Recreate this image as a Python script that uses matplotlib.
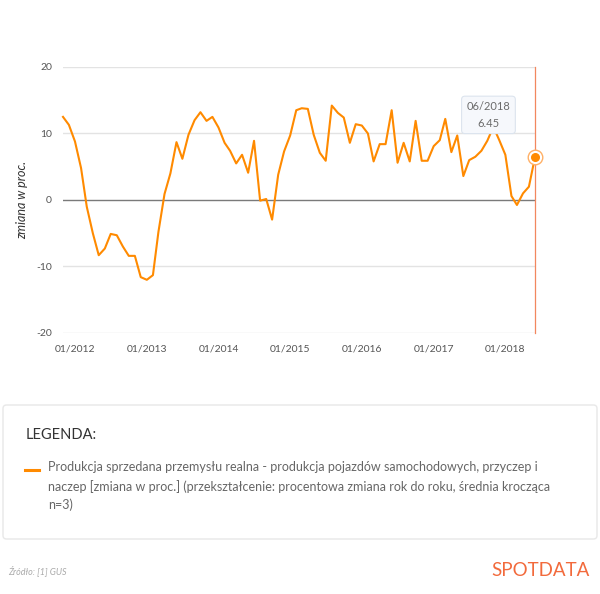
import matplotlib
matplotlib.use('Agg')
import matplotlib.pyplot as plt
import matplotlib.dates as mdates
from matplotlib.patches import FancyBboxPatch
import pandas as pd

plt.rcParams['font.family'] = ['Lato', 'DejaVu Sans']

# monthly series, 11/2011 - 06/2018 (yoy %, 3-month moving average)
start_month = '2011-11-01'
values = [12.5, 11.3, 8.8, 4.8, -1.0, -5.0, -8.3, -7.3, -5.1, -5.3,
          -7.0, -8.4, -8.4, -11.6, -12.0, -11.3, -4.8, 0.9, 4.0, 8.7,
          6.2, 9.8, 12.0, 13.2, 11.9, 12.5, 10.9, 8.6, 7.4, 5.5,
          6.8, 4.1, 8.9, -0.1, 0.15, -2.95, 3.8, 7.3, 9.7, 13.5,
          13.8, 13.7, 9.8, 7.1, 5.9, 14.2, 13.1, 12.4, 8.6, 11.4,
          11.2, 10.0, 5.8, 8.4, 8.4, 13.5, 5.6, 8.6, 5.8, 11.9,
          5.9, 5.9, 8.1, 9.0, 12.2, 7.2, 9.7, 3.6, 6.0, 6.5,
          7.4, 8.9, 11.0, 9.0, 6.8, 0.6, -0.75, 1.0, 2.0, 6.45]
y_ticks = [-20, -10, 0, 10, 20]
tooltip_label = '06/2018'
tooltip_value = '6.45'
legend_text = ('Produkcja sprzedana przemysłu realna - produkcja pojazdów samochodowych, przyczep i\n'
               'naczep [zmiana w proc.] (przekształcenie: procentowa zmiana rok do roku, średnia krocząca\n'
               'n=3)')

dates = pd.date_range(start_month, periods=len(values), freq='MS')

line_col = '#ff8a00'
fig = plt.figure(figsize=(6, 5.94), dpi=100)
ax = fig.add_axes([63 / 600, 1 - 333 / 594, (535 - 63) / 600, (333 - 67) / 594])

for yv in y_ticks:
    if yv == 0:
        ax.axhline(yv, color='#7a7a7a', lw=1.0, zorder=1)
    else:
        ax.axhline(yv, color='#e3e3e3', lw=1.0, zorder=1)

ax.plot(dates, values, color=line_col, lw=1.5, zorder=3, clip_on=False)
ax.axvline(dates[-1], color='#f2875f', lw=0.9, zorder=2, clip_on=False)
ax.scatter([dates[-1]], [values[-1]], s=110, facecolor='white', edgecolor='#ffb066', lw=1.0,
           zorder=4, clip_on=False)
ax.scatter([dates[-1]], [values[-1]], s=30, color=line_col, zorder=5, clip_on=False)

ax.set_xlim(dates[0], dates[-1])
ax.set_ylim(-20, 20)
ax.set_yticks(y_ticks)
ax.set_yticklabels([str(v) for v in y_ticks])
jan = [d for d in dates if d.month == 1]
ax.set_xticks(jan)
ax.xaxis.set_major_formatter(mdates.DateFormatter('%m/%Y'))
ax.tick_params(length=0, labelsize=7.5, labelcolor='#555555', pad=8)
for s in ax.spines.values():
    s.set_visible(False)

# tooltip
tip_x = dates[71] + pd.Timedelta(days=6)
ax.text(tip_x, 12.8, tooltip_label + '\n' + tooltip_value, ha='center', va='center',
        fontsize=8, color='#6b6b6b', linespacing=1.6, zorder=6,
        bbox=dict(boxstyle='round,pad=0.45,rounding_size=0.3', facecolor='#f6f8fc',
                  edgecolor='#dce4ee', lw=0.8))

fig.text(22 / 600, 1 - 200 / 594, 'zmiana w proc.', rotation=90, ha='center', va='center',
         fontsize=9, style='italic', color='#333333')

# legend box
box = FancyBboxPatch((3 / 600, 1 - 539 / 594), 594 / 600, 134 / 594,
                     boxstyle='round,pad=0,rounding_size=0.006', transform=fig.transFigure,
                     facecolor='white', edgecolor='#e8e8e8', lw=1.0)
fig.patches.append(box)
fig.text(26 / 600, 1 - 435 / 594, 'LEGENDA:', ha='left', va='center', fontsize=10.5, color='#333333')
fig.add_artist(plt.Line2D([25 / 600, 39 / 600], [1 - 470 / 594, 1 - 470 / 594],
                          color=line_col, lw=2.2, transform=fig.transFigure))
fig.text(48 / 600, 1 - 461 / 594, legend_text, ha='left', va='top', fontsize=9.0,
         color='#666666', linespacing=1.6)

fig.text(8 / 600, 1 - 571 / 594, 'Źródło: [1] GUS', ha='left', va='center', fontsize=6.5,
         style='italic', color='#aaaaaa')
fig.text(590 / 600, 1 - 571 / 594, 'SPOTDATA', ha='right', va='center', fontsize=13.5,
         color='#f26a3c')

fig.savefig('out.png', dpi=100, facecolor='white')
